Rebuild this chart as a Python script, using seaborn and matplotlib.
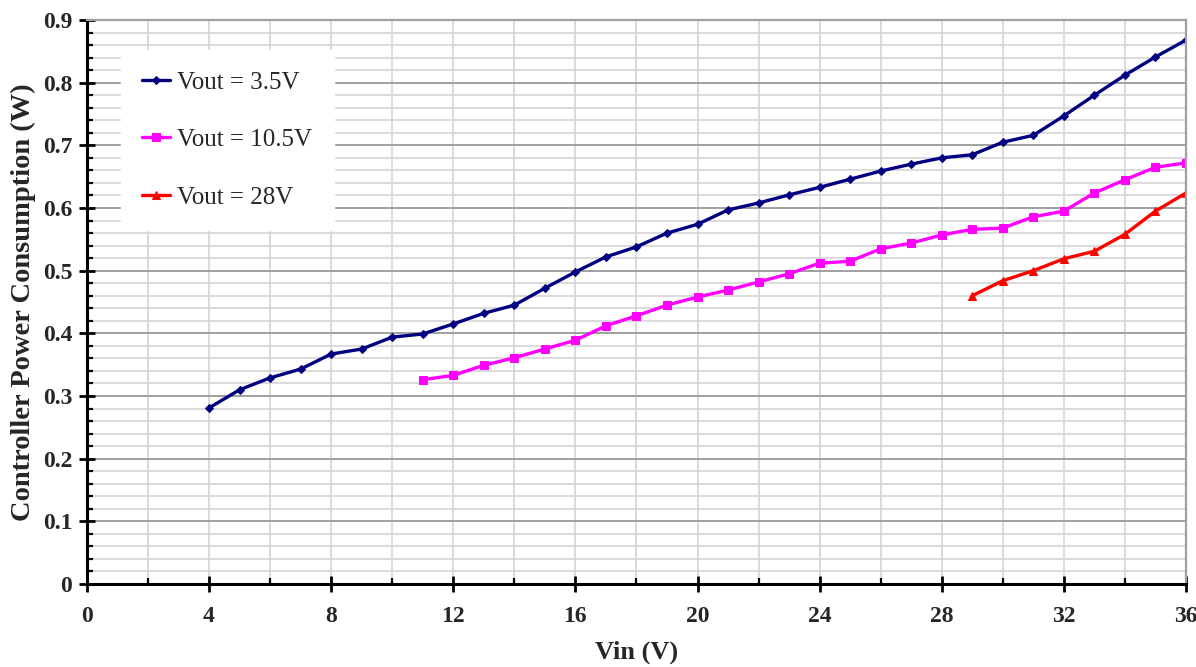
import matplotlib
matplotlib.use("Agg")
import matplotlib.pyplot as plt
import numpy as np
import pandas as pd
import seaborn as sns
from matplotlib.ticker import MultipleLocator

vin_35 = list(range(4, 37))
p_35 = [0.281, 0.310, 0.329, 0.343, 0.367, 0.375, 0.394, 0.399, 0.415, 0.432,
        0.445, 0.472, 0.498, 0.522, 0.538, 0.560, 0.574, 0.597, 0.608, 0.621,
        0.633, 0.646, 0.659, 0.670, 0.680, 0.685, 0.705, 0.716, 0.747, 0.780,
        0.812, 0.841, 0.868]

vin_105 = list(range(11, 37))
p_105 = [0.326, 0.333, 0.349, 0.361, 0.375, 0.389, 0.412, 0.428, 0.445, 0.458,
         0.469, 0.482, 0.495, 0.512, 0.515, 0.535, 0.544, 0.557, 0.566, 0.568,
         0.586, 0.595, 0.624, 0.645, 0.665, 0.672]

vin_28 = list(range(29, 37))
p_28 = [0.460, 0.484, 0.500, 0.519, 0.531, 0.558, 0.595, 0.624]

series = [
    ("Vout = 3.5V", vin_35, p_35, "#000080", "D", 4),
    ("Vout = 10.5V", vin_105, p_105, "#ff00ff", "s", 6),
    ("Vout = 28V", vin_28, p_28, "#ff0000", "^", 6),
]

sns.set_theme(style="white")
plt.rcParams["font.family"] = ["Liberation Serif", "DejaVu Serif"]

fig = plt.figure(figsize=(11.96, 6.67), dpi=100)
ax = fig.add_axes([0.0727, 0.1244, 0.9189, 0.8456])

for label, x, y, color, marker, ms in series:
    df = pd.DataFrame({"vin": x, "p": y})
    sns.lineplot(data=df, x="vin", y="p", ax=ax, color=color, marker=marker,
                 markersize=ms, markeredgecolor=color, linewidth=2.4, label=label)

ax.set_xlim(0, 36)
ax.set_ylim(0, 0.9)
ax.xaxis.set_major_locator(MultipleLocator(4))
ax.xaxis.set_minor_locator(MultipleLocator(2))
ax.yaxis.set_major_locator(MultipleLocator(0.1))
ax.yaxis.set_minor_locator(MultipleLocator(0.02))
ax.set_yticks(np.arange(0, 0.91, 0.1))
ax.set_yticklabels(["0"] + [f"{v:.1f}" for v in np.arange(0.1, 0.91, 0.1)])

ax.grid(which="minor", axis="both", color="#d4d4d4", linewidth=1.2)
ax.grid(which="major", axis="x", color="#d4d4d4", linewidth=1.2)
ax.grid(which="major", axis="y", color="#a0a0a0", linewidth=1.4)
ax.set_axisbelow(True)

for side in ["left", "bottom"]:
    ax.spines[side].set_color("black")
    ax.spines[side].set_linewidth(2.2)
for side in ["top", "right"]:
    ax.spines[side].set_color("#a0a0a0")
    ax.spines[side].set_linewidth(1.6)

ax.tick_params(which="major", direction="inout", length=11, width=2, color="black",
               labelsize=17, bottom=True, left=True)
ax.tick_params(which="minor", direction="in", length=4.5, width=1.6, color="black",
               bottom=True, left=True)
ax.tick_params(axis="x", which="major", pad=10)
ax.tick_params(axis="y", which="major", pad=5)
for t in ax.get_xticklabels() + ax.get_yticklabels():
    t.set_fontweight("bold")

ax.set_xlabel("Vin (V)", fontsize=19, fontweight="bold", labelpad=10)
ax.set_ylabel("Controller Power Consumption (W)", fontsize=20.5, fontweight="bold", labelpad=5)

leg = ax.legend(loc="upper left", bbox_to_anchor=(0.031, 0.947), frameon=True,
                fontsize=18, handlelength=1.1, handletextpad=0.3,
                labelspacing=1.4, borderpad=0.85, borderaxespad=0, fancybox=False)
leg.get_frame().set_facecolor("white")
leg.get_frame().set_edgecolor("white")
leg.get_frame().set_alpha(1)

fig.savefig("out.png", dpi=100)
